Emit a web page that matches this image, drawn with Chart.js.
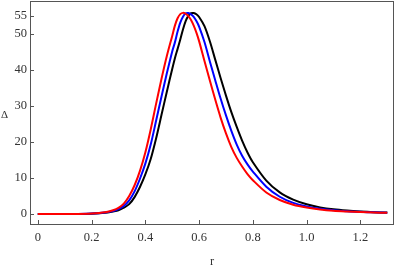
<!DOCTYPE html>
<html>
<head>
<meta charset="utf-8">
<script src="https://cdn.jsdelivr.net/npm/chart.js@4.4.1/dist/chart.umd.min.js"></script>
<style>
  html, body { margin: 0; padding: 0; background: #fff; }
  #wrap { width: 395px; height: 269px; }
</style>
</head>
<body>
<div id="wrap"><canvas id="chart" width="395" height="269"></canvas></div>
<script>
// r values shared by all three curves
const rValues = [0, 0.05, 0.1, 0.15, 0.2, 0.25, 0.28, 0.3, 0.32, 0.34, 0.36, 0.38, 0.4, 0.42, 0.44, 0.46, 0.48,
  0.5, 0.51, 0.52, 0.53, 0.54, 0.55, 0.56, 0.57, 0.58, 0.59, 0.6, 0.62, 0.64, 0.66, 0.68, 0.7, 0.72, 0.74,
  0.76, 0.78, 0.8, 0.85, 0.9, 0.95, 1, 1.05, 1.1, 1.15, 1.2, 1.25, 1.3];

// Delta values
const deltaRed = [0, 0, 0, 0.02, 0.15, 0.5, 1.05, 1.7, 2.9, 5.0, 8.0, 12.0, 17.1, 23.5, 30.6, 37.5, 43.9,
  49.5, 52.35, 54.4, 55.55, 55.9, 55.65, 54.97, 53.9, 52.35, 50.4, 48.05, 42.5, 37.1, 31.8, 26.8, 22.4, 18.6, 15.6,
  13.2, 11.1, 9.4, 6.0, 3.9, 2.6, 1.8, 1.25, 0.9, 0.7, 0.55, 0.42, 0.33];
const deltaBlue = [0, 0, 0, 0.015, 0.13, 0.44, 0.82, 1.4, 2.25, 3.8, 6.3, 9.8, 14.0, 19.3, 25.9, 32.6, 39.1,
  45.2, 47.7, 50.7, 53.2, 54.85, 55.75, 55.87, 55.5, 54.8, 53.65, 52.1, 47.8, 42.4, 37.2, 32.1, 27.4, 23.1, 19.3,
  16.2, 13.8, 11.8, 7.6, 4.8, 3.1, 2.1, 1.45, 1.05, 0.78, 0.6, 0.46, 0.36];
const deltaBlack = [0, 0, 0, 0.01, 0.1, 0.35, 0.73, 1.05, 1.75, 2.75, 4.7, 7.5, 11.0, 15.3, 21.0, 27.5, 34.0,
  40.3, 43.3, 45.9, 48.5, 51.3, 53.6, 55.05, 55.8, 55.86, 55.5, 54.75, 52.2, 48.0, 42.9, 37.8, 32.9, 28.3, 24.2,
  20.4, 17.1, 14.4, 9.3, 6.0, 4.0, 2.7, 1.85, 1.3, 0.95, 0.7, 0.52, 0.4];

const xTicks = [0, 0.2, 0.4, 0.6, 0.8, 1, 1.2];
const yTicks = [0, 10, 20, 30, 40, 50, 55];

const axisColor = '#555';
const labelFont = { family: '"Liberation Serif", "DejaVu Serif", serif', size: 12.5 };

function points(values) {
  return rValues.map((r, i) => ({ x: r, y: values[i] }));
}

// Frame, inward ticks and the upright Delta label
const framePlugin = {
  id: 'frame',
  afterDraw(chart) {
    const { ctx, chartArea: a, scales } = chart;
    ctx.save();
    ctx.strokeStyle = axisColor;
    ctx.lineWidth = 1;
    ctx.strokeRect(a.left + 0.5, a.top + 0.5, a.right - a.left - 1, a.bottom - a.top - 1);
    ctx.beginPath();
    xTicks.forEach(v => {
      const px = Math.round(scales.x.getPixelForValue(v)) + 0.5;
      ctx.moveTo(px, a.bottom);
      ctx.lineTo(px, a.bottom - 5);
    });
    yTicks.forEach(v => {
      const py = Math.round(scales.y.getPixelForValue(v)) + 0.5;
      ctx.moveTo(a.left, py);
      ctx.lineTo(a.left + 4, py);
    });
    ctx.stroke();
    ctx.fillStyle = '#333';
    ctx.font = '11px "Liberation Serif", serif';
    ctx.textAlign = 'left';
    ctx.textBaseline = 'middle';
    ctx.fillText('Δ', 1, (a.top + a.bottom) / 2 + 2);
    ctx.restore();
  }
};

const lineStyle = { borderWidth: 2, pointRadius: 0, fill: false, tension: 0.3 };

new Chart(document.getElementById('chart'), {
  type: 'line',
  data: {
    datasets: [
      Object.assign({ label: 'red', data: points(deltaRed), borderColor: '#ff0000' }, lineStyle),
      Object.assign({ label: 'blue', data: points(deltaBlue), borderColor: '#0000ff' }, lineStyle),
      Object.assign({ label: 'black', data: points(deltaBlack), borderColor: '#000000' }, lineStyle)
    ]
  },
  options: {
    responsive: false,
    animation: false,
    layout: { padding: { top: 1, right: 1, left: 0, bottom: 0 } },
    plugins: { legend: { display: false }, tooltip: { enabled: false } },
    scales: {
      x: {
        type: 'linear',
        min: -0.029,
        max: 1.325,
        afterBuildTicks: s => { s.ticks = xTicks.map(v => ({ value: v })); },
        afterFit: s => { s.height = 44; s.paddingLeft = 0; s.paddingRight = 0; },
        grid: { display: false, drawTicks: false },
        border: { display: false },
        ticks: { color: '#333', font: labelFont, padding: 5, maxRotation: 0, autoSkip: false },
        title: { display: true, text: 'r', color: '#333', font: labelFont, padding: { top: 0, bottom: 0 } }
      },
      y: {
        type: 'linear',
        min: -3.05,
        max: 59.2,
        afterBuildTicks: s => { s.ticks = yTicks.map(v => ({ value: v })); },
        afterFit: s => { s.width = 30; s.paddingTop = 0; s.paddingBottom = 0; },
        grid: { display: false, drawTicks: false },
        border: { display: false },
        ticks: { color: '#333', font: labelFont, padding: 3, autoSkip: false }
      }
    }
  },
  plugins: [framePlugin]
});
</script>
</body>
</html>
